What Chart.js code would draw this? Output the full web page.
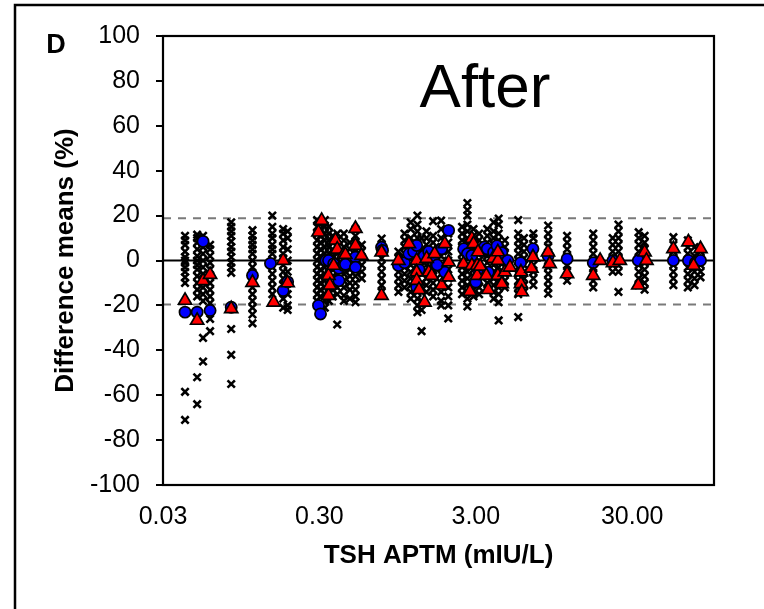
<!DOCTYPE html>
<html><head><meta charset="utf-8">
<script src="https://cdn.jsdelivr.net/npm/chart.js@4.4.1/dist/chart.umd.min.js"></script>
<style>html,body{margin:0;padding:0;background:#fff}#wrap{width:764px;height:609px;position:relative}</style>
</head><body><div id="wrap"><canvas id="c" width="764" height="609"></canvas></div>
<script>
// ---- data ----
const xTickValues = [0.03, 0.3, 3, 30];
const xTickLabels = ['0.03', '0.30', '3.00', '30.00'];
const yMin = -100, yMax = 100, yStep = 20;
const xMin = 0.03, xMax = 100;
const limitUpper = 18.8, limitLower = -19.6, meanLine = 0;
const panelLabel = 'D';
const panelTitle = 'After';
const xTitle = 'TSH APTM (mIU/L)';
const yTitle = 'Difference means (%)';

// individual results: [TSH, list of differences]
const crossGroups = [
 [0.0415, [11, 9, 7, 4, 1.5, 0, -1, -3, -5, -7.5, -10, -58.5, -71]],
 [0.0496, [11.5, 10, 8, 5, 2, 0, -2, -4, -7, -10, -13, -16, -52, -64]],
 [0.0541, [11, 6, 3, 0, -3, -6, -9, -12, -15, -18, -34.5, -45]],
 [0.0600, [7, 5, 2, -1, -4, -7, -10, -13, -16, -19, -22, -26, -31.5]],
 [0.0819, [17, 15, 13, 11, 8.5, 6, 4, 1.5, -1, -3, -5.5, -30.5, -42, -55]],
 [0.112, [13.5, 11, 9, 7, 5, 3, 0, -3, -6, -9, -12, -15, -18, -21, -24, -28]],
 [0.150, [20, 15, 12, 10, 7, 5, 3, 0, -3, -6, -9, -12, -15]],
 [0.176, [14, 12, 9, 6, 3, 1, -2, -5, -8, -11, -14, -17, -21]],
 [0.188, [13, 10, 5, 0, -5, -10, -15, -20, -22]],
 [0.290, [18, 15, 12, 9, 6, 3, 0, -3, -6, -9, -12, -15, -18]],
 [0.305, [16, 14, 11, 8, 5, 2, -1, -4, -7, -10, -13, -16, -20, -22]],
 [0.325, [18, 15, 12, 9, 6, 3, 0, -3, -6, -9, -12, -15, -18, -21]],
 [0.345, [15, 12, 9, 6, 3, 0, -3, -6, -9, -12, -15, -18]],
 [0.365, [11, 8, 5, 2, -1, -4, -7, -10, -13, -16]],
 [0.390, [12, 9, 6, 3, 0, -3, -6, -9, -12, -15, -28.5]],
 [0.430, [12, 9, 6, 3, 0, -3, -6, -9, -12, -15.6, -18]],
 [0.470, [8, 5, 2, -1, -4, -7, -10, -13, -17]],
 [0.510, [14, 11, 8, 5, 2, -1, -4, -7, -10, -13, -16, -18.6]],
 [0.560, [7, 4, 1, -2, -5, -8]],
 [0.750, [9.8, 7, 4, 1, -2, -5, -8, -11, -14]],
 [0.960, [4, 1, -2, -5, -8, -11, -14]],
 [1.05, [12, 9, 6, 3, 0, -3, -6, -9, -12]],
 [1.15, [17, 14, 10, 7, 4, 1, -2, -5, -8, -11, -14, -17]],
 [1.27, [20, 16, 13, 10, 7, 4, 1, -2, -5, -8, -11, -14, -17, -20, -23]],
 [1.35, [10, 5, 0, -5, -10, -18, -22, -31.5]],
 [1.45, [13, 10, 7, 4, 1, -2, -5, -8, -11, -14]],
 [1.60, [17.5, 11, 8, 5, 2, -1, -4, -7, -10, -13, -16]],
 [1.80, [17.8, 14, 10, 6, 2, -2, -6, -10, -14, -18, -20]],
 [2.00, [12, 8, 4, 0, -4, -8, -12, -16, -20, -25.8]],
 [2.45, [15, 12, 9, 6, 3, 0, -3, -6, -9, -12, -15]],
 [2.65, [25.6, 22.5, 20, 16, 13, 10, 7, 4, 1, -2, -5, -8, -11, -14, -17, -20.5]],
 [2.90, [14, 11, 8, 5, 2, -1, -4, -7, -10, -13, -16]],
 [3.15, [12, 9, 6, 3, 0, -3, -6, -9, -12, -15]],
 [3.55, [14, 11, 8, 5, 2, -1, -4, -7, -10, -13]],
 [3.90, [17, 13, 10, 7, 4, 1, -2, -5, -8, -11, -14, -17]],
 [4.20, [18.7, 16, 12, 9, 6, 3, 0, -3, -6, -9, -12, -15, -18.6, -26.7]],
 [4.60, [9, 6, 3, 0, -3, -6, -9, -12]],
 [5.60, [18, 12, 9, 6, 3, 0, -3, -6, -9, -12, -15, -25.2]],
 [6.10, [10, 7, 4, 1, -2, -5, -8, -11, -14]],
 [7.00, [12, 10, 7, 4, 1, -2, -5, -8, -11]],
 [8.70, [15.6, 12, 9, 6, 3, 0, -3, -6, -9, -12, -14.8]],
 [11.5, [11, 8, 5, 2, -2, -5, -9]],
 [16.9, [12, 9, 6, 3, 0, -3, -6, -9, -12]],
 [22.5, [10, 7, 4, 1, -2, -5]],
 [24.5, [16, 13, 10, 7, 4, 1, -2, -5, -14]],
 [33.0, [12.6, 10, 7, 4, 1, -2, -5, -8, -11]],
 [36.0, [11, 8, 5, 2, -1, -4, -7, -10, -13]],
 [55.0, [10.4, 7, 4, 1, -2, -5, -8, -11]],
 [68.0, [9, 6, 3, 0, -3, -6, -9, -12]],
 [75.0, [6, 2, -2, -5, -8, -11]],
 [82.0, [4, 1, -2, -5, -7.5]]
];

// blue circles: [TSH, difference]
const circlePoints = [
 [0.0415,-23],[0.0496,-23],[0.0541,8.5],[0.060,-22.3],[0.0819,-20.8],[0.112,-6.7],[0.146,-1.3],[0.176,-13.4],[0.188,-9.5],
 [0.296,-20],[0.305,-23.8],[0.33,0],[0.343,0],[0.37,-1.5],[0.40,-3.5],[0.40,-9],[0.428,-2.2],[0.44,-1.7],[0.51,1.5],[0.51,-3],
 [0.749,5.9],[0.76,4.5],[0.96,-2.2],[1.05,-1],[1.12,3],[1.2,4],[1.256,6.7],[1.256,-11.9],[1.3,-4],[1.4,2],[1.5,4],[1.6,1],
 [1.815,5.2],[1.9,-5.2],[2.01,13.4],[1.7,-2],
 [2.51,5.2],[2.65,3],[2.83,2.2],[3.0,-9.6],[3.1,-4],[3.3,4],[3.4,6],[3.55,5.2],[3.9,3.7],[4.1,6.6],[4.4,3.5],[3.6,-5.2],
 [4.8,0],[5.8,-1],[6.96,5.2],[8.7,2],[11.5,0.7],[16.9,-1],[22.6,0],[32.8,0],[55,0],[68.6,0],[76,-1],[82,0]
];

// red triangles: [TSH, difference]
const trianglePoints = [
 [0.0415,-17.8],[0.0496,-26.7],[0.0541,-9],[0.060,-6.3],[0.0819,-21.5],[0.112,-9.8],[0.153,-18.6],[0.176,0],[0.188,-10],
 [0.296,12.6],[0.31,17.8],[0.343,-6.7],[0.343,-15.6],[0.35,-11],[0.37,-2.2],[0.38,9],[0.39,5],[0.428,2.7],[0.44,2.6],
 [0.51,14.2],[0.51,6.7],[0.557,2.2],
 [0.749,3.7],[0.749,-15.6],[0.96,0],[1.12,7.4],[1.256,0],[1.256,-5.2],[1.256,-8.9],[1.3,-13],[1.41,-18.6],[1.455,0.9],
 [1.5,-5.2],[1.567,-6.7],[1.637,3],[1.815,-11],[1.9,7.4],[2.01,-0.7],[2.01,-7.4],
 [2.5,-1.5],[2.75,-13.8],[2.83,9.8],[2.9,7.4],[2.83,-2.2],[3.06,-2.2],[3.06,-6.7],[3.1,3.8],[3.2,-2.6],
 [3.5,-6.7],[3.6,-13],[3.86,0.9],[4.15,0],[4.15,-6.7],[4.15,3.8],[4.4,-10.4],[4.6,-5.2],[4.96,-3],
 [5.83,-5.2],[5.83,-10.4],[5.9,-14],[6.8,-3.5],[6.96,1.5],[8.68,3.7],[8.9,-1.5],[11.5,-6],[16.9,-6.7],[18.7,0],
 [22.6,-1],[25,0],[32.8,-11],[36,3.7],[37,0],[55,5.2],[68.6,8.2],[74,-2.2],[82,5.2]
];

// ---- build ----
const FONT = "'Liberation Sans', Arial, sans-serif";
const crossData = crossGroups.flatMap(([x, ys]) => ys.map(y => ({x, y})));
const circleData = circlePoints.map(([x, y]) => ({x, y}));
const triangleData = trianglePoints.map(([x, y]) => ({x, y}));

const decor = {
  id: 'decor',
  beforeDraw(chart) {
    const ctx = chart.ctx;
    ctx.save();
    ctx.fillStyle = '#fff';
    ctx.fillRect(0, 0, chart.width, chart.height);
    ctx.strokeStyle = '#000';
    ctx.lineWidth = 2.5;
    ctx.strokeRect(15, 5, chart.width + 20, chart.height + 20);
    ctx.restore();
  },
  beforeDatasetsDraw(chart) {
    const {ctx, chartArea: a, scales: {y}} = chart;
    ctx.save();
    ctx.strokeStyle = '#7a7a7a';
    ctx.lineWidth = 2;
    ctx.setLineDash([8, 7]);
    [limitUpper, limitLower].forEach(v => {
      const py = y.getPixelForValue(v);
      ctx.beginPath(); ctx.moveTo(a.left, py); ctx.lineTo(a.right, py); ctx.stroke();
    });
    ctx.setLineDash([]);
    ctx.strokeStyle = '#000';
    ctx.lineWidth = 2;
    const p0 = y.getPixelForValue(meanLine);
    ctx.beginPath(); ctx.moveTo(a.left, p0); ctx.lineTo(a.right, p0); ctx.stroke();
    ctx.lineWidth = 2.2;
    ctx.strokeRect(a.left, a.top, a.right - a.left, a.bottom - a.top);
    ctx.restore();
  },
  afterDraw(chart) {
    const ctx = chart.ctx;
    ctx.save();
    ctx.fillStyle = '#000';
    ctx.textAlign = 'center';
    ctx.textBaseline = 'middle';
    ctx.font = 'bold 27px ' + FONT;
    ctx.fillText(panelLabel, 56, 46);
    ctx.font = '62px ' + FONT;
    ctx.fillText(panelTitle, 485, 90);
    ctx.restore();
  }
};

new Chart(document.getElementById('c'), {
  type: 'scatter',
  data: {
    datasets: [
      { label: 'triangles', data: triangleData, pointStyle: 'triangle', pointRadius: 7.6,
        backgroundColor: '#ff0000', borderColor: '#000', borderWidth: 1.7 },
      { label: 'circles', data: circleData, pointStyle: 'circle', pointRadius: 5.6,
        backgroundColor: '#0000ff', borderColor: '#000', borderWidth: 1.7 },
      { label: 'crosses', data: crossData, pointStyle: 'crossRot', pointRadius: 5.2,
        borderColor: '#000', backgroundColor: '#000', borderWidth: 2.6 }
    ]
  },
  options: {
    responsive: false,
    animation: false,
    events: [],
    layout: { padding: { top: 36, right: 50, bottom: 0, left: 0 } },
    plugins: { legend: { display: false }, tooltip: { enabled: false } },
    scales: {
      x: {
        type: 'logarithmic', min: xMin, max: xMax,
        afterBuildTicks(scale) { scale.ticks = xTickValues.map(v => ({ value: v })); },
        afterFit(scale) { scale.height = 124; },
        grid: { display: false, drawTicks: false },
        border: { display: false },
        ticks: { autoSkip: false, maxRotation: 0, padding: 17, color: '#000',
          font: { family: FONT, size: 25 },
          callback: (v, i) => xTickLabels[i] },
        title: { display: true, text: xTitle, color: '#000',
          font: { family: FONT, size: 26, weight: 'bold' }, padding: { top: 0, bottom: 38 } }
      },
      y: {
        type: 'linear', min: yMin, max: yMax,
        afterFit(scale) { scale.width = 163; },
        grid: { display: true, drawOnChartArea: false, drawTicks: true, tickLength: 7, color: '#000', lineWidth: 2 },
        border: { display: false },
        ticks: { stepSize: yStep, padding: 16, color: '#000',
          font: { family: FONT, size: 25 },
          callback: v => String(v) },
        title: { display: true, text: yTitle, color: '#000',
          font: { family: FONT, size: 26, weight: 'bold' }, padding: { top: 50, bottom: 0 } }
      }
    }
  },
  plugins: [decor]
});
</script>
</body></html>
